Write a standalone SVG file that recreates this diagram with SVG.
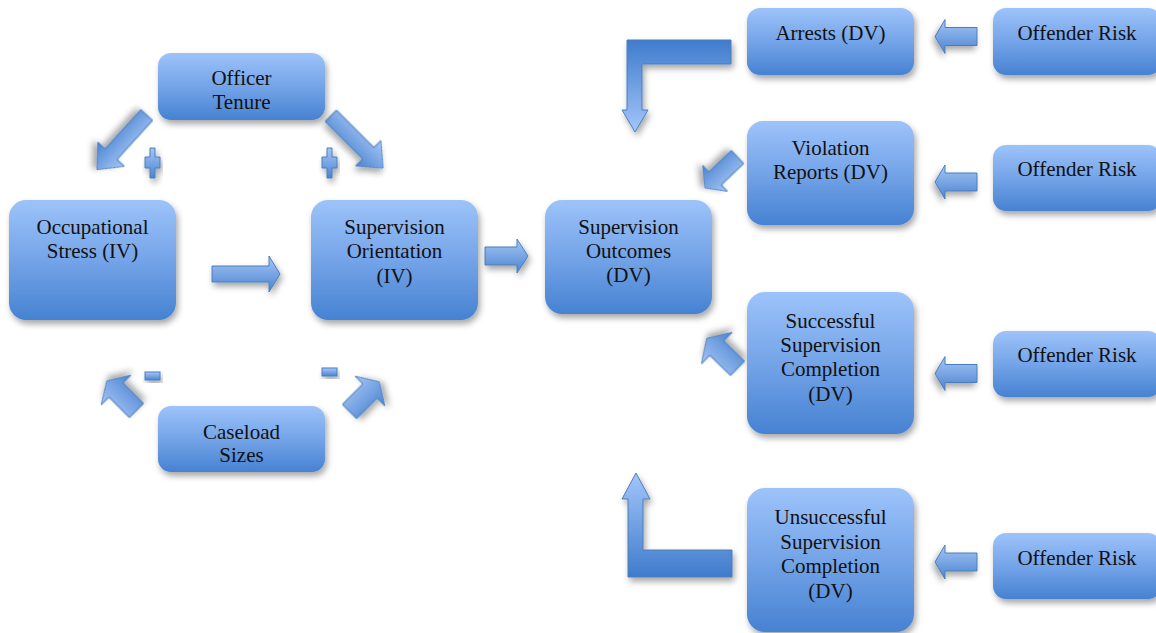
<svg xmlns="http://www.w3.org/2000/svg" width="1156" height="633" viewBox="0 0 1156 633">
<defs>
<linearGradient id="ng" x1="0" y1="0" x2="0" y2="1">
<stop offset="0" stop-color="#9DC3FA"/>
<stop offset="0.5" stop-color="#74A4E8"/>
<stop offset="1" stop-color="#4682D2"/>
</linearGradient>
<linearGradient id="ag" x1="0" y1="0" x2="0" y2="1">
<stop offset="0" stop-color="#A5C7F7"/>
<stop offset="1" stop-color="#4C83D0"/>
</linearGradient>
<linearGradient id="lg1" gradientUnits="userSpaceOnUse" x1="0" y1="40" x2="0" y2="132">
<stop offset="0" stop-color="#3F7BCC"/>
<stop offset="1" stop-color="#A3C6FA"/>
</linearGradient>
<linearGradient id="lg2" gradientUnits="userSpaceOnUse" x1="0" y1="473" x2="0" y2="577">
<stop offset="0" stop-color="#A3C6FA"/>
<stop offset="1" stop-color="#3F7BCC"/>
</linearGradient>
<filter id="sh" x="-20%" y="-20%" width="140%" height="150%">
<feDropShadow dx="2" dy="4" stdDeviation="3" flood-color="#000" flood-opacity="0.35"/>
</filter>
<style>
.node{fill:url(#ng);filter:url(#sh)}
.t{font-family:"Liberation Serif","Times New Roman",serif;font-size:21px;fill:#111;text-anchor:middle}
.arr{fill:url(#ag);stroke:#4A7EBB;stroke-width:1;filter:url(#sh)}
</style>
</defs>

<g id="connectors">
<!-- Tenure arrows -->
<path class="arr" transform="translate(146.7,115) rotate(132.3)" d="M0,-8 L53,-8 L53,-18 L74,0 L53,18 L53,8 L0,8 Z"/>
<path class="arr" transform="translate(330.8,115.8) rotate(45)" d="M0,-8 L53,-8 L53,-18 L74,0 L53,18 L53,8 L0,8 Z"/>
<!-- plus signs -->
<path class="arr" d="M150,148 L155,148 L155,157 L160,157 L160,168 L155,168 L155,178 L150,178 L150,168 L145,168 L145,157 L150,157 Z"/>
<path class="arr" d="M327,148 L332,148 L332,157 L337,157 L337,168 L332,168 L332,178 L327,178 L327,168 L322,168 L322,157 L327,157 Z"/>
<!-- Caseload arrows -->
<path class="arr" transform="translate(136.5,410.5) rotate(225)" d="M0,-10 L29,-10 L29,-21 L42,0 L29,21 L29,10 L0,10 Z"/>
<path class="arr" transform="translate(349.5,411.5) rotate(-45)" d="M0,-10 L29,-10 L29,-21 L42,0 L29,21 L29,10 L0,10 Z"/>
<!-- minus signs -->
<rect class="arr" x="145" y="372" width="15" height="8"/>
<rect class="arr" x="322" y="368" width="15" height="8"/>
<!-- horizontal arrows -->
<path class="arr" d="M212,266 L269,266 L269,256 L280,274 L269,292 L269,282 L212,282 Z"/>
<path class="arr" d="M485,247 L517,247 L517,239 L528,256 L517,273 L517,265 L485,265 Z"/>
<!-- right side arrows -->
<path class="arr" style="fill:url(#lg1)" d="M731,40 L731,64 L642,64 L642,110 L648,110 L635,132 L622,110 L627,110 L627,40 Z"/>
<path class="arr" style="fill:url(#lg2)" d="M732,577 L628,577 L628,499 L622,499 L636,473 L650,499 L643,499 L643,550 L732,550 Z"/>
<path class="arr" transform="translate(737.5,157) rotate(136.4)" d="M0,-9 L31,-9 L31,-18 L45,0 L31,18 L31,9 L0,9 Z"/>
<path class="arr" transform="translate(737.5,368.3) rotate(224.3)" d="M0,-10 L29,-10 L29,-22 L43,0 L29,22 L29,10 L0,10 Z"/>
<!-- offender risk arrows -->
<path class="arr" transform="translate(977,36.5) scale(-1,1)" d="M0,-9 L32,-9 L32,-17 L42,0 L32,17 L32,9 L0,9 Z"/>
<path class="arr" transform="translate(977,182) scale(-1,1)" d="M0,-9 L32,-9 L32,-17 L42,0 L32,17 L32,9 L0,9 Z"/>
<path class="arr" transform="translate(977,373.5) scale(-1,1)" d="M0,-9 L32,-9 L32,-17 L42,0 L32,17 L32,9 L0,9 Z"/>
<path class="arr" transform="translate(977,562) scale(-1,1)" d="M0,-9 L32,-9 L32,-17 L42,0 L32,17 L32,9 L0,9 Z"/>
</g>

<g id="officer-tenure">
<rect class="node" x="158" y="53" width="167" height="67" rx="13"/>
<text class="t" x="241.5" y="85">Officer</text>
<text class="t" x="241.5" y="109">Tenure</text>
</g>
<g id="occupational-stress">
<rect class="node" x="9" y="200" width="167" height="120" rx="17"/>
<text class="t" x="92.5" y="234">Occupational</text>
<text class="t" x="92.5" y="258">Stress (IV)</text>
</g>
<g id="supervision-orientation">
<rect class="node" x="311" y="200" width="167" height="120" rx="17"/>
<text class="t" x="394.5" y="234">Supervision</text>
<text class="t" x="394.5" y="258">Orientation</text>
<text class="t" x="394.5" y="283">(IV)</text>
</g>
<g id="caseload-sizes">
<rect class="node" x="158" y="406" width="167" height="66" rx="13"/>
<text class="t" x="241.5" y="439">Caseload</text>
<text class="t" x="241.5" y="462">Sizes</text>
</g>
<g id="supervision-outcomes">
<rect class="node" x="545" y="200" width="167" height="114" rx="17"/>
<text class="t" x="628.5" y="234">Supervision</text>
<text class="t" x="628.5" y="258">Outcomes</text>
<text class="t" x="628.5" y="282">(DV)</text>
</g>
<g id="arrests">
<rect class="node" x="747" y="8" width="167" height="67" rx="13"/>
<text class="t" x="830.5" y="40">Arrests (DV)</text>
</g>
<g id="violation-reports">
<rect class="node" x="747" y="121" width="167" height="104" rx="16"/>
<text class="t" x="830.5" y="155">Violation</text>
<text class="t" x="830.5" y="179">Reports (DV)</text>
</g>
<g id="successful-completion">
<rect class="node" x="747" y="292" width="167" height="142" rx="18"/>
<text class="t" x="830.5" y="328">Successful</text>
<text class="t" x="830.5" y="352">Supervision</text>
<text class="t" x="830.5" y="376">Completion</text>
<text class="t" x="830.5" y="401">(DV)</text>
</g>
<g id="unsuccessful-completion">
<rect class="node" x="747" y="488" width="167" height="144" rx="18"/>
<text class="t" x="830.5" y="524">Unsuccessful</text>
<text class="t" x="830.5" y="549">Supervision</text>
<text class="t" x="830.5" y="573">Completion</text>
<text class="t" x="830.5" y="598">(DV)</text>
</g>
<g id="offender-risk-1">
<rect class="node" x="993" y="8" width="168" height="67" rx="13"/>
<text class="t" x="1077" y="40">Offender Risk</text>
</g>
<g id="offender-risk-2">
<rect class="node" x="993" y="145" width="168" height="66" rx="13"/>
<text class="t" x="1077" y="176">Offender Risk</text>
</g>
<g id="offender-risk-3">
<rect class="node" x="993" y="331" width="168" height="66" rx="13"/>
<text class="t" x="1077" y="362">Offender Risk</text>
</g>
<g id="offender-risk-4">
<rect class="node" x="993" y="533" width="168" height="66" rx="13"/>
<text class="t" x="1077" y="565">Offender Risk</text>
</g>
</svg>
